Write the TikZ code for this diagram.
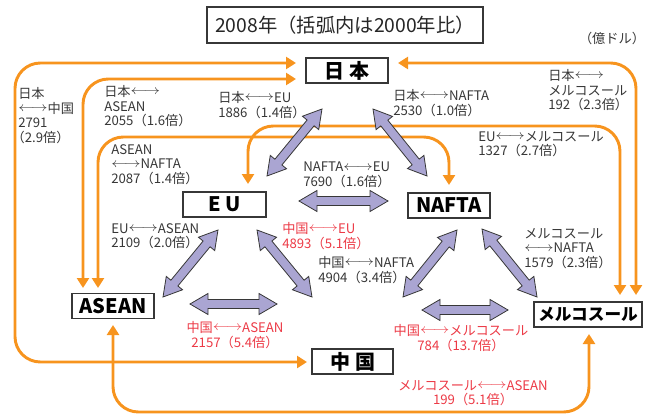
\documentclass[tikz,border=0pt]{standalone}
\usepackage{fontspec}
\setmainfont{Noto Sans CJK JP}
\usetikzlibrary{calc,arrows.meta}
\definecolor{og}{RGB}{247,148,30}
\definecolor{pu}{RGB}{170,165,210}
\definecolor{tg}{RGB}{55,55,55}
\definecolor{rd}{RGB}{236,58,70}
\newcommand\lra{\raisebox{0.12em}{\scalebox{1.2}[1]{$\longleftrightarrow$}}}
\newcommand\lp{\hspace*{-0.5em}（}
\newcommand\fatarrow[2]{%
 \path[fat] (#1) -- ($(#1)!13.5pt!(#2)!7.9pt!90:(#2)$) -- ($(#1)!13.5pt!(#2)!3.4pt!90:(#2)$)
  -- ($(#2)!13.5pt!(#1)!3.4pt!-90:(#1)$) -- ($(#2)!13.5pt!(#1)!7.9pt!-90:(#1)$) -- (#2)
  -- ($(#2)!13.5pt!(#1)!7.9pt!90:(#1)$) -- ($(#2)!13.5pt!(#1)!3.4pt!90:(#1)$)
  -- ($(#1)!13.5pt!(#2)!3.4pt!-90:(#2)$) -- ($(#1)!13.5pt!(#2)!7.9pt!-90:(#2)$) -- cycle;}
\tikzset{
 box/.style={draw=tg, line width=1.1pt, fill=white, text=black, font=\bfseries\fontsize{15}{15}\selectfont, minimum height=18.75pt, inner sep=0pt},
 titlebox/.style={draw=tg, line width=0.8pt, fill=white, text=black!85, font=\fontsize{14.5}{15}\selectfont, minimum width=207pt, minimum height=27pt, inner sep=0pt},
 lab/.style={text=tg, font=\fontsize{9.9}{11}\selectfont, align=left, inner sep=0pt, anchor=north west},
 labr/.style={text=rd, font=\fontsize{9.9}{11}\selectfont, align=center, inner sep=0pt, anchor=north},
 ol/.style={draw=og, line width=2.2pt, rounded corners=19pt},
 ob/.style={ol, arrows={Triangle[length=7.5pt,width=9pt]-Triangle[length=7.5pt,width=9pt]}},
 fat/.style={fill=pu, draw=tg, line width=0.6pt, line join=miter}
}
\begin{document}
\begin{tikzpicture}[x=0.75pt,y=-0.75pt]
\useasboundingbox (0,0) rectangle (657,414);

% orange connectors: arrow tips
\coordinate (jpA) at (296,63);
\coordinate (jpB) at (296,79);
\coordinate (jpC) at (398,63);
\coordinate (cnA) at (307,362);
\coordinate (asA) at (83,288);
\coordinate (asB) at (98,288);
\coordinate (asC) at (113,325);
\coordinate (naA) at (449,185);
\coordinate (euA) at (248,184);
\coordinate (meA) at (620,295);
\coordinate (meB) at (636,295);
\coordinate (meC) at (589,334);

\draw[ob] (jpA) -- (15,63) -- (15,362) -- (cnA);
\draw[ob] (jpB) -- (83,79) -- (asA);
\draw[ob] (asB) -- (98,137) -- (449,137) -- (naA);
\draw[ob] (euA) -- (248,126) -- (620,126) -- (meA);
\draw[ob] (jpC) -- (636,63) -- (meB);
\draw[ob] (asC) -- (113,412) -- (589,412) -- (meC);

% purple double arrows
\coordinate (je1) at (322,109); \coordinate (je2) at (267,176);
\coordinate (jn1) at (373,109); \coordinate (jn2) at (427,176);
\coordinate (ne1) at (299,201); \coordinate (ne2) at (388,201);
\coordinate (ea1) at (218,230); \coordinate (ea2) at (163,297);
\coordinate (ec1) at (257,230); \coordinate (ec2) at (312,297);
\coordinate (nc1) at (457,230); \coordinate (nc2) at (403,297);
\coordinate (nm1) at (482,229); \coordinate (nm2) at (537,297);
\coordinate (ac1) at (190,304); \coordinate (ac2) at (277,304);
\coordinate (cm1) at (422,310); \coordinate (cm2) at (508,310);
\fatarrow{je1}{je2}
\fatarrow{jn1}{jn2}
\fatarrow{ne1}{ne2}
\fatarrow{ea1}{ea2}
\fatarrow{ec1}{ec2}
\fatarrow{nc1}{nc2}
\fatarrow{nm1}{nm2}
\fatarrow{ac1}{ac2}
\fatarrow{cm1}{cm2}

% boxes
\node[titlebox] (title) at (345,25) {2008年（括弧内は2000年比）};
\node[box, minimum width=61.5pt] (jp) at (347,70.5) {日\hspace{0.25em}本};
\node[box, minimum width=62.25pt] (eu) at (224.5,204.5) {E\hspace{0.25em}U};
\node[box, minimum width=61.5pt] (na) at (449,205.5) {NAFTA};
\node[box, minimum width=61.5pt] (as) at (113,306) {ASEAN};
\node[box, minimum width=81pt, font=\bfseries\fontsize{12.5}{13}\selectfont] (me) at (588,314.5) {メルコスール};
\node[box, minimum width=60.75pt] (cn) at (352.5,361.5) {中\hspace{0.25em}国};

% labels
\node[lab, anchor=center] (unit) at (612,38) {（億ドル）};
\node[lab] (l1) at (18,87) {日本\\\lra 中国\\2791\\\lp 2.9倍）};
\node[lab] (l2) at (104,85) {日本\lra\\ASEAN\\2055（1.6倍）};
\node[lab] (l3) at (218,91) {日本\lra EU\\1886（1.4倍）};
\node[lab] (l4) at (393,89) {日本\lra NAFTA\\2530（1.0倍）};
\node[lab] (l5) at (548,69) {日本\lra\\メルコスール\\192（2.3倍）};
\node[lab] (l6) at (478,131) {EU\lra メルコスール\\1327（2.7倍）};
\node[lab] (l7) at (111,144) {ASEAN\\\lra NAFTA\\2087（1.4倍）};
\node[lab] (l8) at (303,162) {NAFTA\lra EU\\7690（1.6倍）};
\node[lab] (l9) at (111,223) {EU\lra ASEAN\\2109（2.0倍）};
\node[lab, text=rd] (l10) at (282,222) {中国\lra EU\\4893（5.1倍）};
\node[lab] (l11) at (318,256) {中国\lra NAFTA\\4904（3.4倍）};
\node[lab] (l12) at (524,228) {メルコスール\\\lra NAFTA\\1579（2.3倍）};
\node[labr] (l13) at (235,321) {中国\lra ASEAN\\2157（5.4倍）};
\node[labr] (l14) at (461,324) {中国\lra メルコスール\\784（13.7倍）};
\node[labr] (l15) at (473,380) {メルコスール\lra ASEAN\\199（5.1倍）};
\end{tikzpicture}
\end{document}
